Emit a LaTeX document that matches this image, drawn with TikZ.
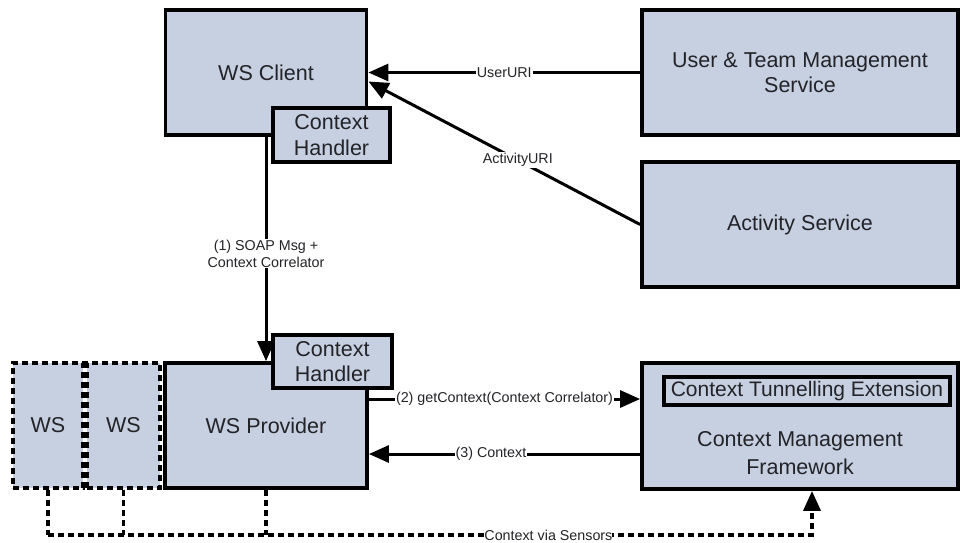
\documentclass[tikz,border=0pt]{standalone}
\usepackage{fontspec}
\setmainfont{Liberation Sans}
\usetikzlibrary{arrows.meta,calc}
\definecolor{boxfill}{RGB}{198,208,225}
\definecolor{ink}{RGB}{35,35,40}
\tikzset{
  box/.style={draw=black, line width=3.8pt, fill=boxfill, text=ink,
    font=\fontsize{21.5}{25.5}\selectfont, align=center, inner sep=0pt},
  dbox/.style={box, line width=3.6pt, dash pattern=on 6pt off 4pt},
  conn/.style={line width=3pt, -{Triangle[length=20pt,width=17pt]}},
  sens/.style={line width=3.6pt, dash pattern=on 6pt off 4pt},
  lbl/.style={fill=white, text=ink, inner sep=1pt, font=\fontsize{14.3}{17}\selectfont, align=center}
}
\begin{document}
\begin{tikzpicture}[x=1pt,y=-1pt]
\useasboundingbox (0,0) rectangle (960,542);

% service boxes
\node[box, minimum width=201pt, minimum height=125pt] (client) at (266,72.5) {WS Client};
\node[box, minimum width=117pt, minimum height=54pt] (chc) at (331.5,135) {Context\\Handler};
\node[box, minimum width=316pt, minimum height=125pt] (utm) at (800,72.5) {User \& Team Management\\Service};
\node[box, minimum width=316pt, minimum height=125pt] (act) at (800,224.5) {Activity Service};

\node[dbox, minimum width=70pt, minimum height=125pt] (ws1) at (48,425.5) {WS};
\node[dbox, minimum width=73pt, minimum height=125pt] (ws2) at (123.5,425.5) {WS};
\node[box, minimum width=202pt, minimum height=125pt] (prov) at (266,425.5) {WS Provider};
\node[box, minimum width=119pt, minimum height=53pt] (phc) at (332.5,361.5) {Context\\Handler};

\node[box, minimum width=316pt, minimum height=126pt] (cmf) at (800,426) {};
\node[box, minimum width=286pt, minimum height=28pt, font=\fontsize{21}{24}\selectfont] (cte) at (807,391) {Context Tunnelling Extension};
\node[text=ink, align=center, font=\fontsize{21.5}{28}\selectfont] (cmft) at (800,453) {Context Management\\Framework};

% helper coordinates
\coordinate (tipA) at ($(client.east)+(0,9)$);
\coordinate (y2) at (0,399);
\coordinate (y3) at (0,454);
\coordinate (bus) at (0,535);
\coordinate (sx) at (812,0);

% connectors
\draw[conn] (utm.west) -- node[lbl, pos=0.5] {UserURI} (client.east);
\draw[conn] (act.west) -- node[lbl, pos=0.45] {ActivityURI} (tipA);
\draw[conn] (client.south) -- node[lbl, pos=0.52] {(1) SOAP Msg +\\Context Correlator} (prov.north);
\draw[conn] (prov.east |- y2) -- node[lbl, pos=0.5] {(2) getContext(Context Correlator)} (cmf.west |- y2);
\draw[conn] (cmf.west |- y3) -- node[lbl, pos=0.55] {(3) Context} (prov.east |- y3);

% sensor feed
\draw[sens] (ws1.south) -- (ws1.south |- bus);
\draw[sens] (ws2.south) -- (ws2.south |- bus);
\draw[sens] (prov.south) -- (prov.south |- bus);
\draw[sens, -{Triangle[length=20pt,width=17pt]}] (ws1.south |- bus) -- node[lbl, pos=0.655, inner sep=0pt] {Context via Sensors} (sx |- bus) -- (sx |- cmf.south);
\end{tikzpicture}
\end{document}
